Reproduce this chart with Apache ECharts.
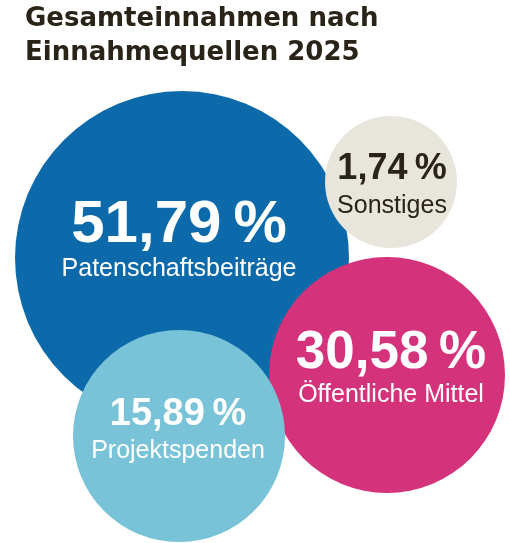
<!DOCTYPE html>
<html>
<head>
<meta charset="utf-8">
<script src="https://cdn.jsdelivr.net/npm/echarts@6/dist/echarts.min.js"></script>
<style>
  html, body { margin: 0; padding: 0; background: #fff; }
  #chart { width: 510px; height: 543px; }
</style>
</head>
<body>
<div id="chart"></div>
<script>
  // Data
  const categories = ['Patenschaftsbeiträge', 'Sonstiges', 'Öffentliche Mittel', 'Projektspenden']
  const shares = [51.79, 1.74, 30.58, 15.89]

  // Bubble layout (centre on a 510 x 543 plane, radius)
  const layoutX = [182, 391, 387, 179]
  const layoutY = [258, 182, 375, 436]
  const layoutR = [167, 66, 118, 106]

  const colors = ['#0c6aab', '#e8e5dd', '#d4327a', '#79c3d8']
  const textColors = ['#fff', '#2a2418', '#fff', '#fff']
  const numSize = [60, 36, 53, 38]
  const nameSize = [25, 25, 25, 25]
  const lineGap = [43.5, 37, 42.5, 37.5]
  const labelShift = [[-3, -10.7], [1, 5.5], [4, -0.7], [-1, -3.2]]

  const fmt = v => v.toFixed(2).replace('.', ',') + '\u2009%'

  const chart = echarts.init(document.getElementById('chart'), null, { renderer: 'canvas' })

  const data = categories.map((name, i) => ({
    name,
    value: [layoutX[i], layoutY[i], shares[i]],
    symbolSize: layoutR[i] * 2,
    itemStyle: { color: colors[i], opacity: 1 },
    label: {
      offset: labelShift[i],
      rich: {
        v: { fontSize: numSize[i], fontWeight: 'bold', color: textColors[i], lineHeight: lineGap[i], fontFamily: 'Liberation Sans, Arial, sans-serif' },
        n: { fontSize: nameSize[i], color: textColors[i], lineHeight: lineGap[i], fontFamily: 'Liberation Sans, Arial, sans-serif' },
      },
    },
  }))

  chart.setOption({
    animation: false,
    title: {
      text: 'Gesamteinnahmen nach\nEinnahmequellen 2025',
      left: 20, top: -3,
      textStyle: { fontFamily: 'DejaVu Sans', fontWeight: 'bold', fontSize: 26, lineHeight: 34, color: '#2a2418' },
    },
    grid: { left: 0, right: 0, top: 0, bottom: 0 },
    xAxis: { type: 'value', min: 0, max: 510, show: false },
    yAxis: { type: 'value', min: 0, max: 543, inverse: true, show: false },
    series: [{
      type: 'scatter',
      symbol: 'circle',
      data,
      itemStyle: { opacity: 1 },
      emphasis: { disabled: true },
      label: {
        show: true,
        position: 'inside',
        align: 'center',
        formatter: p => `{v|${fmt(p.value[2])}}\n{n|${p.name}}`,
      },
    }],
  })
</script>
</body>
</html>
